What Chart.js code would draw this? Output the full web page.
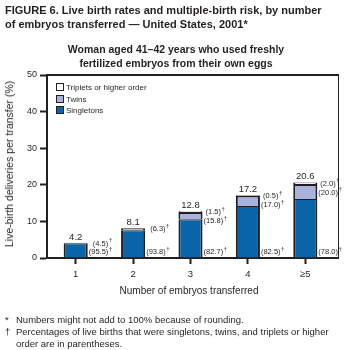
<!DOCTYPE html>
<html>
<head>
<meta charset="utf-8">
<script src="https://cdn.jsdelivr.net/npm/chart.js@4/dist/chart.umd.min.js"></script>
<style>
  html, body { margin: 0; padding: 0; background: #fff; }
  body { width: 348px; height: 350px; position: relative; overflow: hidden;
         font-family: 'Liberation Sans', Arial, Helvetica, sans-serif; color: #231f20; }
  #wrap { position: absolute; left: 0; top: 0; width: 348px; height: 350px; }
  .t { position: absolute; white-space: nowrap; }
  #title { left: 5px; top: 3px; font-size: 11px; font-weight: bold; line-height: 14px; }
  #sub { left: 0; width: 352px; top: 42px; font-size: 10.5px; font-weight: bold; line-height: 14px; text-align: center; }
  #ytitle { left: 9px; top: 164px; font-size: 10.5px; transform: translate(-50%, -50%) rotate(-90deg); }
  #xtitle { left: 189px; top: 290px; font-size: 10px; transform: translate(-50%, -50%); }
  #notes { left: 5px; top: 314px; font-size: 9.5px; line-height: 12px; }
  #notes .m { display: inline-block; width: 11px; }
  #legend { left: 56px; top: 82px; font-size: 8px; line-height: 11.5px; }
  #legend .sw { display: inline-block; width: 6px; height: 6px; border: 1.5px solid #231f20;
                vertical-align: -1px; margin-right: 2px; }
</style>
</head>
<body>
<div id="wrap"><canvas id="chart" width="348" height="350"></canvas></div>
<div class="t" id="title">FIGURE 6. Live birth rates and multiple-birth risk, by number<br>of embryos transferred — United States, 2001*</div>
<div class="t" id="sub">Woman aged 41–42 years who used freshly<br>fertilized embryos from their own eggs</div>
<div class="t" id="ytitle">Live-birth deliveries per transfer (%)</div>
<div class="t" id="xtitle">Number of embryos transferred</div>
<div class="t" id="legend"></div>
<div class="t" id="notes"><span class="m">*</span>Numbers might not add to 100% because of rounding.<br><span class="m">†</span>Percentages of live births that were singletons, twins, and triplets or higher<br><span class="m"></span>order are in parentheses.</div>
<script>
  // categorías y valores
  const categories = ['1', '2', '3', '4', '≥5'];
  const totals = [4.2, 8.1, 12.8, 17.2, 20.6];
  const singletons = [4.0, 7.6, 10.6, 14.2, 16.1];
  const twins = [0.2, 0.5, 2.0, 2.9, 4.1];
  const triplets = [0, 0, 0.2, 0.1, 0.4];
  const singletonPct = ['(95.5)', '(93.8)', '(82.7)', '(82.5)', '(78.0)'];
  const twinPct = ['(4.5)', '(6.3)', '(15.8)', '(17.0)', '(20.0)'];
  const tripletPct = [null, null, '(1.5)', '(0.5)', '(2.0)'];
  const yTicks = [0, 10, 20, 30, 40, 50];

  const INK = '#231f20';
  const FONT = "'Liberation Sans', Arial, Helvetica, sans-serif";

  const series = [
    { label: 'Singletons', data: singletons, color: '#0a64a8', border: { left: 2, right: 2, bottom: 0, top: 1 } },
    { label: 'Twins', data: twins, color: '#aab3dc', border: { left: 2, right: 2, bottom: 0, top: 2 } },
    { label: 'Triplets or higher order', data: triplets, color: '#ffffff', border: { left: 2, right: 2, bottom: 0, top: 2 } }
  ];

  // leyenda en HTML, orden inverso como en la figura
  document.getElementById('legend').innerHTML = series.slice().reverse().map(function (s) {
    return '<div><span class="sw" style="background:' + s.color + '"></span>' + s.label + '</div>';
  }).join('');

  function pctLabel(ctx, text, x, y) {
    ctx.font = '7.5px ' + FONT;
    ctx.textAlign = 'left';
    ctx.textBaseline = 'middle';
    ctx.fillText(text, x, y);
    const w = ctx.measureText(text).width;
    ctx.font = '6px ' + FONT;
    ctx.fillText('†', x + w + 0.5, y - 3);
  }

  const decor = {
    id: 'decor',
    afterDraw: function (chart) {
      const ctx = chart.ctx;
      const a = chart.chartArea;
      const y = chart.scales.y;
      const xr = a.right + 5;
      ctx.save();
      ctx.strokeStyle = INK;
      // marco superior y derecho
      ctx.lineWidth = 2;
      ctx.beginPath();
      ctx.moveTo(a.left - 1, a.top);
      ctx.lineTo(xr, a.top);
      ctx.stroke();
      ctx.lineWidth = 1;
      ctx.beginPath();
      ctx.moveTo(xr - 0.5, a.top);
      ctx.lineTo(xr - 0.5, a.bottom);
      ctx.stroke();
      ctx.lineWidth = 2;
      ctx.beginPath();
      ctx.moveTo(a.right - 1, a.bottom);
      ctx.lineTo(xr, a.bottom);
      ctx.stroke();

      ctx.fillStyle = INK;
      const meta = chart.getDatasetMeta(0);
      meta.data.forEach(function (bar, i) {
        const top = y.getPixelForValue(totals[i]);
        const right = bar.x + bar.width / 2;
        ctx.font = '9.5px ' + FONT;
        ctx.textAlign = 'center';
        ctx.textBaseline = 'bottom';
        ctx.fillText(totals[i].toFixed(1), bar.x, top - 1);

        pctLabel(ctx, singletonPct[i], right + 1, a.bottom - 6);
        if (tripletPct[i]) {
          pctLabel(ctx, tripletPct[i], right + 3, top + 1);
          pctLabel(ctx, twinPct[i], right + 1, top + 10);
        } else {
          pctLabel(ctx, twinPct[i], right + 5, top + 1);
        }
      });
      ctx.restore();
    }
  };

  new Chart(document.getElementById('chart'), {
    type: 'bar',
    data: {
      labels: categories,
      datasets: series.map(function (s) {
        return {
          label: s.label,
          data: s.data,
          backgroundColor: s.color,
          borderColor: INK,
          borderWidth: s.border,
          borderSkipped: false,
          barPercentage: 0.84,
          categoryPercentage: 0.5
        };
      })
    },
    options: {
      responsive: false,
      animation: false,
      layout: { padding: { top: 75, left: 0, right: 14, bottom: 72 } },
      plugins: { legend: { display: false }, tooltip: { enabled: false } },
      scales: {
        x: {
          stacked: true,
          afterFit: function (s) { s.height = 20; },
          grid: { offset: false, drawOnChartArea: false, drawTicks: true, tickLength: 6, tickWidth: 2, tickColor: INK },
          border: { display: true, color: INK, width: 2 },
          ticks: { color: INK, font: { size: 9.5, family: FONT }, padding: 5, maxRotation: 0 }
        },
        y: {
          stacked: true,
          min: 0,
          max: 50,
          afterFit: function (s) { s.width = 47; },
          afterBuildTicks: function (s) { s.ticks = yTicks.map(function (v) { return { value: v }; }); },
          grid: { drawOnChartArea: false, drawTicks: true, tickLength: 7, tickWidth: 2, tickColor: INK },
          border: { display: true, color: INK, width: 2 },
          ticks: { color: INK, font: { size: 9, family: FONT }, padding: 3 }
        }
      }
    },
    plugins: [decor]
  });
</script>
</body>
</html>
